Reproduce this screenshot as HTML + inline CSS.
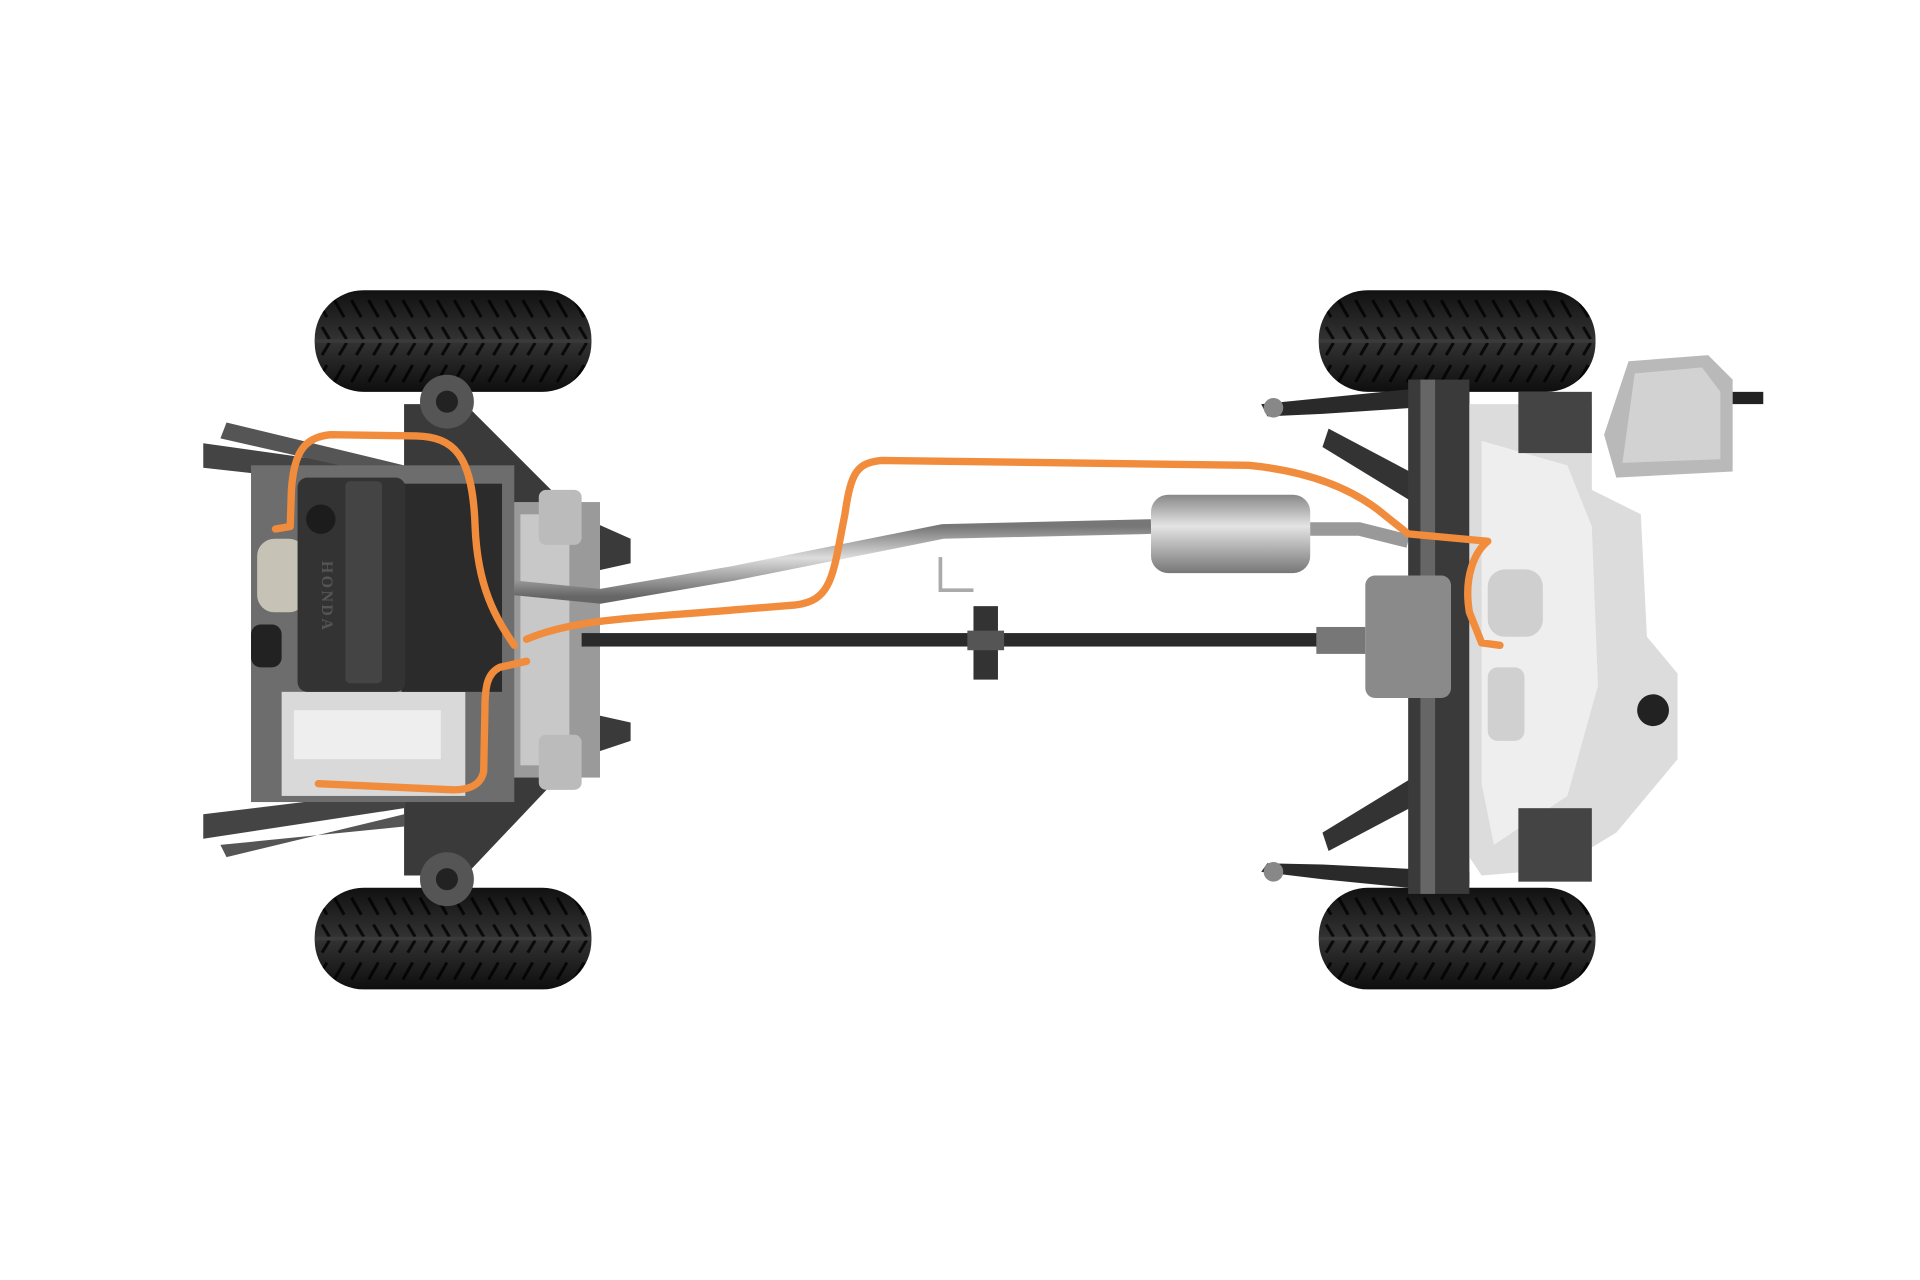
<!DOCTYPE html>
<html><head><meta charset="utf-8"><style>
html,body{margin:0;padding:0;background:#fff;width:1920px;height:1280px;overflow:hidden}
svg{display:block}
</style></head><body>
<svg width="1920" height="1280" viewBox="0 0 1568 1045.3" xmlns="http://www.w3.org/2000/svg">
<defs>
<linearGradient id="tire" x1="0" y1="0" x2="0" y2="1">
<stop offset="0" stop-color="#111"/><stop offset="0.5" stop-color="#333"/><stop offset="1" stop-color="#0e0e0e"/>
</linearGradient>
<linearGradient id="pipe" x1="0" y1="0" x2="0" y2="1">
<stop offset="0" stop-color="#777"/><stop offset="0.45" stop-color="#ddd"/><stop offset="1" stop-color="#666"/>
</linearGradient>
<linearGradient id="muff" x1="0" y1="0" x2="0" y2="1">
<stop offset="0" stop-color="#888"/><stop offset="0.4" stop-color="#e4e4e4"/><stop offset="1" stop-color="#777"/>
</linearGradient>
<pattern id="tread" width="14" height="83" patternUnits="userSpaceOnUse">
<path d="M2 8 L10 22 M2 75 L10 61 M6 30 L12 40 M6 53 L12 43" stroke="#000" stroke-width="2.5" fill="none"/>
</pattern>
<clipPath id="tc"><rect x="0" y="0" width="226" height="83" rx="40"/></clipPath>
<g id="tireG">
<rect x="0" y="0" width="226" height="83" rx="40" fill="url(#tire)"/>
<rect x="0" y="0" width="226" height="83" fill="url(#tread)" opacity="0.8" clip-path="url(#tc)"/>
<rect x="0" y="40" width="226" height="3" fill="#3a3a3a" clip-path="url(#tc)"/>
</g>
</defs>

<!-- front frame arms -->
<path d="M166 362 L330 385 L330 400 L166 382Z" fill="#444"/>
<path d="M185 345 L330 380 L330 392 L180 358Z" fill="#555"/>
<path d="M166 665 L330 645 L330 660 L166 685Z" fill="#444"/>
<path d="M185 700 L330 665 L330 675 L180 690Z" fill="#555"/>

<!-- front subframe -->
<path d="M330 330 L380 330 L470 420 L515 440 L515 460 L470 470 L470 580 L515 590 L515 605 L470 620 L380 715 L330 715Z" fill="#3a3a3a"/>
<rect x="410" y="410" width="80" height="225" fill="#9a9a9a"/>
<rect x="425" y="420" width="40" height="205" fill="#c8c8c8"/>
<rect x="440" y="400" width="35" height="45" rx="6" fill="#bbb"/>
<rect x="440" y="600" width="35" height="45" rx="6" fill="#bbb"/>

<!-- engine bay -->
<rect x="205" y="380" width="215" height="275" fill="#6d6d6d"/>
<rect x="230" y="565" width="150" height="85" fill="#d9d9d9"/>
<rect x="240" y="580" width="120" height="40" fill="#eee"/>
<rect x="210" y="440" width="40" height="60" rx="14" fill="#c7c2b6"/>
<rect x="328" y="395" width="82" height="170" fill="#2b2b2b"/>
<rect x="243" y="390" width="88" height="175" rx="8" fill="#333"/>
<rect x="282" y="393" width="30" height="165" rx="4" fill="#444"/>
<circle cx="262" cy="424" r="12" fill="#1c1c1c"/>
<text x="0" y="0" transform="translate(263,458) rotate(90)" font-family="Liberation Serif, serif" font-size="13" font-weight="bold" fill="#555" letter-spacing="2">HONDA</text>
<rect x="205" y="510" width="25" height="35" rx="8" fill="#222"/>

<!-- tires -->
<use href="#tireG" x="257" y="237"/>
<use href="#tireG" x="257" y="725"/>
<use href="#tireG" x="1077" y="237"/>
<use href="#tireG" x="1077" y="725"/>
<!-- strut mounts -->
<circle cx="365" cy="328" r="22" fill="#555"/><circle cx="365" cy="328" r="9" fill="#222"/>
<circle cx="365" cy="718" r="22" fill="#555"/><circle cx="365" cy="718" r="9" fill="#222"/>

<!-- drive shaft -->
<rect x="475" y="517" width="325" height="11" fill="#2a2a2a"/>
<rect x="812" y="517" width="270" height="11" fill="#2a2a2a"/>
<rect x="795" y="495" width="20" height="60" fill="#333"/>
<rect x="790" y="515" width="30" height="16" fill="#555"/>
<rect x="1075" y="512" width="40" height="22" fill="#777"/>

<!-- exhaust -->
<path d="M420 480 L490 487 L600 468 L770 434 L940 430" stroke="url(#pipe)" stroke-width="12" fill="none" stroke-linejoin="round"/>
<rect x="940" y="404" width="130" height="64" rx="14" fill="url(#muff)"/>
<path d="M1070 432 L1110 432 L1150 442" stroke="#999" stroke-width="11" fill="none"/>
<path d="M768 455 L768 482 L795 482" stroke="#aaa" stroke-width="3" fill="none"/>

<!-- rear frame -->
<path d="M1085 350 L1170 395 L1170 420 L1080 365Z" fill="#333"/>
<path d="M1085 695 L1170 650 L1170 625 L1080 680Z" fill="#333"/>
<path d="M1030 330 L1080 325 L1150 318 L1200 320 L1200 330 L1080 338 L1035 340Z" fill="#2a2a2a"/>
<path d="M1030 712 L1080 718 L1150 725 L1200 722 L1200 712 L1080 706 L1035 705Z" fill="#2a2a2a"/>
<rect x="1150" y="310" width="50" height="420" fill="#3a3a3a"/>
<rect x="1160" y="310" width="12" height="420" fill="#666"/>
<rect x="1115" y="470" width="70" height="100" rx="8" fill="#8a8a8a"/>
<path d="M1200 330 L1300 330 L1300 400 L1340 420 L1345 520 L1370 550 L1370 620 L1320 680 L1270 710 L1210 715 L1200 700Z" fill="#dcdcdc"/>
<path d="M1210 360 L1280 380 L1300 430 L1305 560 L1280 650 L1220 690 L1210 640Z" fill="#eeeeee"/>
<rect x="1215" y="465" width="45" height="55" rx="14" fill="#cfcfcf"/>
<rect x="1215" y="545" width="30" height="60" rx="8" fill="#d0d0d0"/>
<circle cx="1350" cy="580" r="13" fill="#222"/>
<rect x="1240" y="320" width="60" height="50" fill="#444"/>
<rect x="1240" y="660" width="60" height="60" fill="#444"/>
<!-- fuel tank -->
<path d="M1330 295 L1395 290 L1415 310 L1415 385 L1320 390 L1310 355Z" fill="#b9b9b9"/>
<path d="M1335 305 L1390 300 L1405 320 L1405 375 L1325 378Z" fill="#d2d2d2"/>
<rect x="1415" y="320" width="25" height="10" fill="#222"/>
<circle cx="1040" cy="333" r="8" fill="#888"/><circle cx="1040" cy="712" r="8" fill="#888"/>

<!-- orange cables -->
<g stroke="#f08c3c" stroke-width="6" fill="none" stroke-linecap="round" stroke-linejoin="round">
<path d="M430 522 C470 505 520 505 600 498 L650 494 C680 490 680 470 690 420 C695 385 700 378 720 376 L1020 380 C1060 384 1100 395 1130 420 L1150 436 L1215 442 C1205 450 1195 470 1200 500 L1210 525 L1225 527"/>
<path d="M430 540 L408 545 C398 550 396 560 396 580 L395 630 C393 640 385 645 370 645 L260 640"/>
<path d="M420 527 C405 505 390 480 388 430 C386 370 370 357 340 356 L270 355 C248 357 240 370 238 400 L237 430 L225 432"/>
</g>
</svg>
</body></html>
